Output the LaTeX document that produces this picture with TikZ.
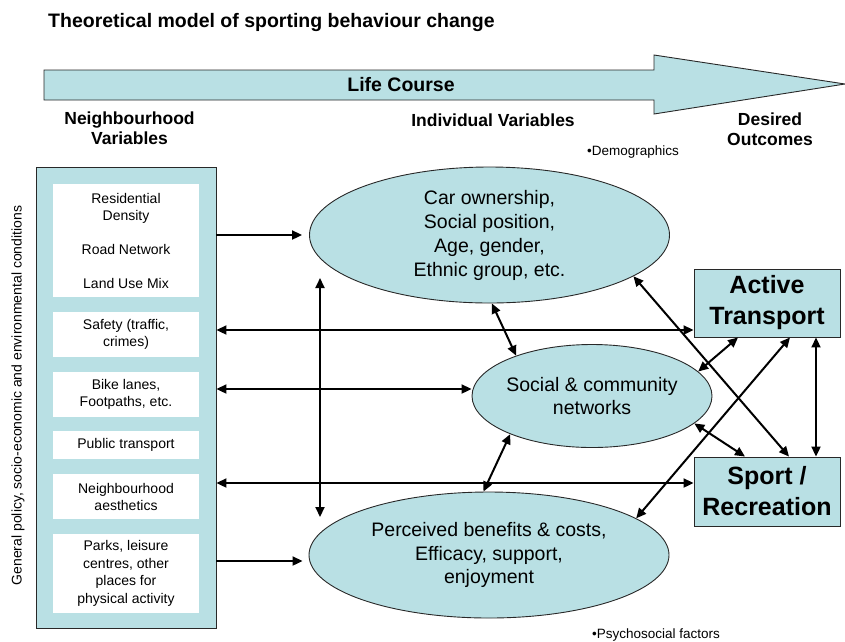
\documentclass[tikz,border=0pt]{standalone}
\usepackage{fontspec}
\setmainfont{Liberation Sans}
\usetikzlibrary{arrows.meta,shapes.geometric,calc}
\definecolor{lblue}{RGB}{185,224,228}
\definecolor{edgec}{RGB}{40,40,40}
\newcommand\myfs[2]{\fontsize{#1}{#2}\selectfont}
\begin{document}
\begin{tikzpicture}[x=1pt,y=-1pt,
  shp/.style={fill=lblue,draw=edgec,line width=0.9pt},
  wbox/.style={fill=white,draw=none,minimum width=146pt,inner sep=0pt,align=center,font=\myfs{14}{17}},
  ell/.style={shp,ellipse,inner sep=0pt,align=center,font=\myfs{19.5}{24}},
  obox/.style={shp,rectangle,inner sep=0pt,minimum width=146pt,align=center,font=\bfseries\myfs{25}{31}},
  con/.style={line width=2pt,-{Triangle[length=10pt,width=9pt]}},
  dcon/.style={line width=2pt,{Triangle[length=10pt,width=9pt]}-{Triangle[length=10pt,width=9pt]}},
  hdr/.style={font=\bfseries\myfs{17.5}{20},align=center,inner sep=0pt},
  note/.style={font=\myfs{13.5}{16},inner sep=0pt},
]
\useasboundingbox (0,0) rectangle (845,641);

% title
\node[anchor=west,inner sep=0pt,font=\bfseries\myfs{19.5}{23}] (title) at (48,22) {Theoretical model of sporting behaviour change};

% life course arrow
\draw[shp] (44,70) -- (654,70) -- (654,55) -- (845,84) -- (654,114) -- (654,100) -- (44,100) -- cycle;
\node[font=\bfseries\myfs{19.5}{23},inner sep=0pt] (life) at (401,85) {Life Course};

% headers
\node[hdr] (hn) at (129.5,128) {Neighbourhood\\Variables};
\node[hdr] (hi) at (493,120) {Individual Variables};
\node[hdr] (hd) at (770,129) {Desired\\Outcomes};
\node[note,anchor=east] (demo) at (679,152) {•Demographics};
\node[note] (psy) at (656,635) {•Psychosocial factors};

% left box
\node[shp,rectangle,minimum width=179.3pt,minimum height=461pt,inner sep=0pt] (lb) at (126.35,397.5) {};
\node[wbox,minimum height=113pt] (b1) at (126,240.5) {Residential\\Density\\[17pt]Road Network\\[17pt]Land Use Mix};
\node[wbox,minimum height=45pt] (b2) at (126,334.5) {Safety (traffic,\\crimes)};
\node[wbox,minimum height=45pt] (b3) at (126,394.5) {Bike lanes,\\Footpaths, etc.};
\node[wbox,minimum height=28pt] (b4) at (126,445) {Public transport};
\node[wbox,minimum height=45pt] (b5) at (126,496.5) {Neighbourhood\\aesthetics};
\node[wbox,minimum height=79pt,font=\myfs{14}{17.5}] (b6) at (126,573.5) {Parks, leisure\\centres, other\\places for\\physical activity};
\node[rotate=90,font=\myfs{14}{17},inner sep=0pt] (gp) at (18,395.5) {General policy, socio-economic and environmental conditions};

% ellipses
\node[ell,minimum width=360pt,minimum height=136pt] (e1) at (489.5,235) {Car ownership,\\Social position,\\Age, gender,\\Ethnic group, etc.};
\node[ell,minimum width=240pt,minimum height=103pt,
  label={[font=\myfs{19.5}{23},align=center,inner sep=0pt]center:Social \& community\\networks}] (e2) at (592,396) {};
\node[ell,minimum width=360pt,minimum height=126pt,font=\myfs{19.5}{23.5}] (e3) at (489,555) {Perceived benefits \& costs,\\Efficacy, support,\\enjoyment};

% outcome boxes
\node[obox,minimum height=68pt] (at) at (767,303) {Active\\Transport};
\node[obox,minimum height=69pt] (sp) at (767,491.5) {Sport /\\Recreation};

% connectors from the left box
\draw[con] (lb.east |- e1.west) -- ($(e1.west)+(-7,0)$);
\draw[dcon] (lb.east |- 0,330) -- (at.west |- 0,330);
\draw[dcon] (lb.east |- 0,389) -- (e2.west |- 0,389);
\draw[dcon] (lb.east |- 0,483) -- (sp.west |- 0,483);
\draw[con] (lb.east |- 0,561) -- ($(e3.west |- 0,561)+(-6,0)$);

% vertical arrow between demographics and psychosocial ellipses
\coordinate (v1) at (320,278);
\coordinate (v2) at (320,517);
\draw[dcon] (v1) -- (v2);

% connectors among ellipses and outcomes
\draw[dcon] (e1.-88) -- (e2.152);
\draw[dcon] (e2.205) -- (e3.95);
\draw[dcon] (e1.-16) -- ([xshift=22pt]sp.north);
\draw[dcon] (e2.13) -- ([xshift=-29pt]at.south);
\draw[dcon] (e2.-15) -- ([xshift=-22pt]sp.north);
\draw[dcon] (e3.14.5) -- ([xshift=23pt]at.south);
\draw[dcon] ([xshift=49pt]at.south) -- ([xshift=49pt]sp.north);
\end{tikzpicture}
\end{document}
